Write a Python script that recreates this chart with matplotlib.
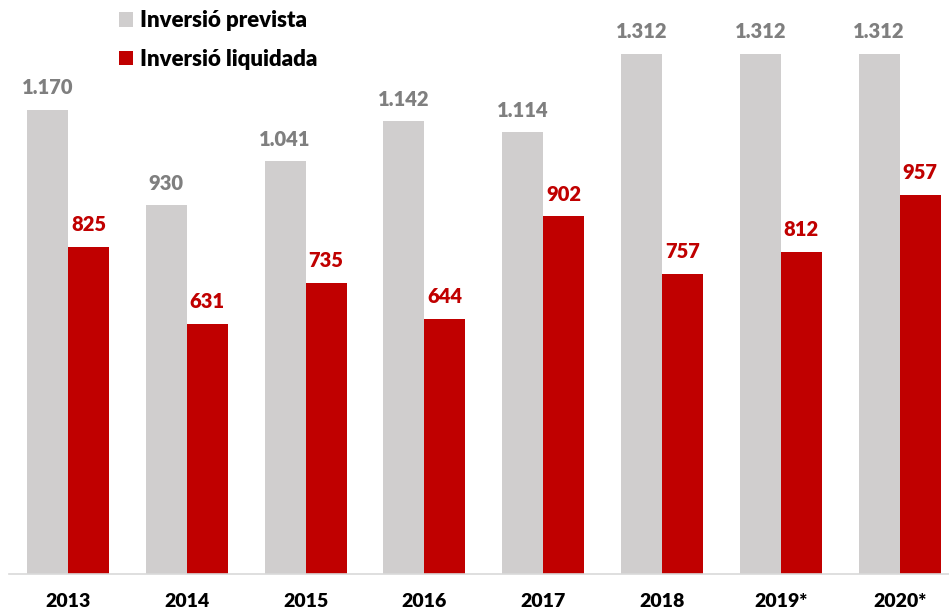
import matplotlib.pyplot as plt
import numpy as np

# Data
years = ['2013', '2014', '2015', '2016', '2017', '2018', '2019*', '2020*']
prevista = [1170, 930, 1041, 1142, 1114, 1312, 1312, 1312]
liquidada = [825, 631, 735, 644, 902, 757, 812, 957]

grey = '#d0cece'
red = '#c00000'
plt.rcParams['font.family'] = ['Lato', 'DejaVu Sans']


def fmt(v):
    # thousands separator as a dot
    return f"{v:,}".replace(',', '.')


fig = plt.figure(figsize=(9.49, 6.11), dpi=100)
ax = fig.add_axes([8.6 / 949, 37 / 611, 950.4 / 949, 574 / 611])

x = np.arange(len(years))
w = 0.345
b1 = ax.bar(x - w / 2, prevista, w, color=grey, label='Inversió prevista')
b2 = ax.bar(x + w / 2, liquidada, w, color=red, label='Inversió liquidada')

for xi, v in zip(x, prevista):
    ax.annotate(fmt(v), (xi - w / 2, v), xytext=(0, 16), textcoords='offset points',
                ha='center', va='center', fontsize=14.5, fontweight='heavy', color='#7f7f7f')
for xi, v in zip(x, liquidada):
    ax.annotate(fmt(v), (xi + w / 2, v), xytext=(0, 16), textcoords='offset points',
                ha='center', va='center', fontsize=14.5, fontweight='heavy', color=red)

ax.set_xlim(-0.5, len(years) - 0.5)
ax.set_ylim(0, 1448)
ax.set_xticks(x)
ax.set_xticklabels(years, fontsize=14, fontweight='heavy')
ax.tick_params(axis='x', length=0, pad=14)
ax.set_yticks([])
for s in ['top', 'right', 'left']:
    ax.spines[s].set_visible(False)
ax.spines['bottom'].set_color('#d9d9d9')
ax.spines['bottom'].set_linewidth(1.2)

leg = fig.legend(handles=[b1, b2], loc='upper left', bbox_to_anchor=(0.1045, 1.016),
                 frameon=False, fontsize=16, handlelength=0.62, handleheight=0.62,
                 handletextpad=0.3, labelspacing=0.78)
for t in leg.get_texts():
    t.set_fontweight('heavy')

fig.savefig('out.png', dpi=100)
